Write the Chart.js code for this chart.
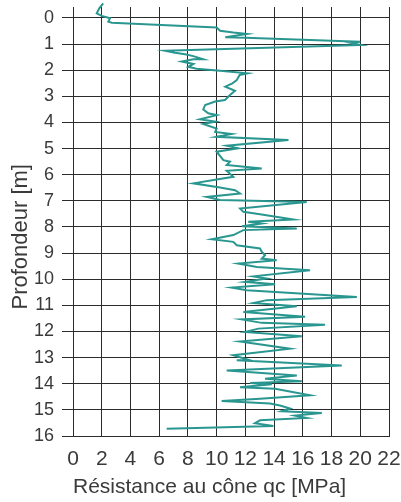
<!DOCTYPE html>
<html>
<head>
<meta charset="utf-8">
<script src="https://cdn.jsdelivr.net/npm/chart.js@4.4.0/dist/chart.umd.min.js"></script>
<style>
	html, body { margin: 0; padding: 0; background: #fff; }
	#wrap { width: 401px; height: 502px; }
</style>
</head>
<body>
<div id="wrap"><canvas id="cptChart"></canvas></div>
<script>
// Cone resistance qc [MPa] against depth [m]
const qc = [
	2.1, 1.83, 1.65, 2.0, 2.58, 2.46, 2.7, 10.0, 10.24, 11.16, 12.1, 10.6, 12.0, 20.0, 19.3, 20.0,
	6.4, 7.1, 7.8, 8.38, 9.07, 8.38, 7.57, 8.38, 8.03, 8.6, 10.24, 12.14, 11.6, 11.4, 11.1, 10.6,
	11.28, 10.93, 10.58, 9.9, 9.2, 9.07, 9.42, 10.0, 8.84, 9.9, 9.07, 10.0, 9.9, 11.05, 10.0, 15.0,
	10.7, 11.5, 10.0, 10.47, 10.93, 10.7, 12.1, 13.14, 10.7, 11.16, 10.0, 8.38, 10.24, 11.28, 11.63,
	9.31, 10.24, 16.27, 11.63, 11.86, 13.02, 15.34, 12.2, 13.14, 11.75, 15.58, 11.86, 11.16, 9.66,
	11.16, 11.4, 13.02, 13.14, 13.37, 13.14, 14.18, 11.51, 12.8, 16.5, 12.56, 13.49, 11.98, 14.07,
	11.05, 12.1, 19.76, 13.49, 12.56, 15.58, 11.86, 16.16, 11.75, 13.14, 17.55, 12.9, 11.98, 15.93,
	11.63, 15.11, 11.16, 12.2, 11.4, 18.71, 10.7, 15.58, 13.37, 15.93, 12.33, 13.84, 11.63, 14.07,
	16.5, 13.02, 10.35, 13.72, 14.41, 15.11, 14.53, 17.32, 15.46, 16.27, 13.02, 12.67, 13.95, 6.52,
]
const depth = [
	-0.56, -0.37, -0.18, -0.08, 0.01, 0.14, 0.18, 0.36, 0.49, 0.56, 0.61, 0.74, 0.76, 0.91, 0.95, 1.03,
	1.25, 1.33, 1.39, 1.46, 1.58, 1.58, 1.67, 1.76, 1.87, 1.94, 2.02, 2.12, 2.18, 2.38, 2.5, 2.63,
	2.79, 2.95, 3.14, 3.2, 3.33, 3.5, 3.65, 3.72, 3.88, 3.97, 4.06, 4.23, 4.36, 4.44, 4.55, 4.67,
	4.89, 4.99, 5.12, 5.44, 5.5, 5.63, 5.7, 5.76, 5.85, 6.08, 6.18, 6.33, 6.49, 6.59, 6.72,
	6.85, 6.97, 7.04, 7.29, 7.42, 7.51, 7.71, 7.8, 7.87, 7.97, 8.06, 8.12, 8.31, 8.47,
	8.57, 8.7, 8.82, 8.95, 9.08, 9.21, 9.27, 9.4, 9.53, 9.66, 9.89, 9.97, 10.1, 10.19,
	10.32, 10.42, 10.68, 10.8, 10.91, 11.03, 11.25, 11.44, 11.54, 11.67, 11.74, 11.89, 12.02, 12.18,
	12.38, 12.66, 12.91, 13.08, 13.1, 13.3, 13.49, 13.68, 13.81, 13.9, 13.97, 14.02, 14.13, 14.19,
	14.44, 14.57, 14.66, 14.76, 14.83, 14.95, 15.05, 15.12, 15.22, 15.31, 15.4, 15.51, 15.62, 15.72,
]
const depthTicks = [0, 1, 2, 3, 4, 5, 6, 7, 8, 9, 10, 11, 12, 13, 14, 15, 16]
const qcTicks = [0, 2, 4, 6, 8, 10, 12, 14, 16, 18, 20, 22]

const gridColor = '#2b2b2b'
const textColor = '#3a3a3a'
const fontFamily = '"Liberation Sans", Arial, Helvetica, sans-serif'

window.addEventListener('DOMContentLoaded', () => {
	const ctx = document.getElementById('cptChart')
	new Chart(ctx.getContext('2d'), {
		type: 'line',
		data: {
			datasets: [
				{
					data: qc.map((v, i) => ({ x: v, y: depth[i] })),
					borderColor: '#2a9690',
					borderWidth: 2,
					pointRadius: 0,
					tension: 0,
					fill: false,
					clip: false,
				},
			],
		},
		options: {
			responsive: true,
			maintainAspectRatio: false,
			animation: false,
			layout: {
				padding: { top: 7, left: 3, right: 0, bottom: 0 },
			},
			plugins: {
				legend: { display: false },
				tooltip: { enabled: false },
			},
			scales: {
				x: {
					type: 'linear',
					min: qcTicks[0],
					max: qcTicks[qcTicks.length - 1],
					afterBuildTicks: (axis) => {
						axis.ticks = qcTicks.map((v) => ({ value: v }))
					},
					afterFit: (axis) => {
						axis.height = 66
						axis.paddingLeft = 0
						axis.paddingRight = 12
					},
					grid: {
						color: gridColor,
						lineWidth: 1,
						drawTicks: false,
					},
					border: { color: gridColor, width: 1 },
					ticks: {
						color: textColor,
						padding: 11,
						maxRotation: 0,
						autoSkip: false,
						font: { family: fontFamily, size: 21 },
					},
					title: {
						display: true,
						align: 'start',
						text: 'Résistance au cône qc [MPa]',
						color: textColor,
						padding: { top: 4, bottom: 2 },
						font: { family: fontFamily, size: 21 },
					},
				},
				y: {
					type: 'linear',
					reverse: true,
					min: -0.42,
					max: 16,
					afterBuildTicks: (axis) => {
						axis.ticks = depthTicks.map((v) => ({ value: v }))
					},
					afterFit: (axis) => {
						axis.width = 70
						axis.paddingTop = 0
						axis.paddingBottom = 0
					},
					grid: {
						color: gridColor,
						lineWidth: 1,
						tickLength: 11,
					},
					border: { color: gridColor, width: 1 },
					ticks: {
						color: textColor,
						padding: 8,
						autoSkip: false,
						font: { family: fontFamily, size: 18 },
					},
					title: {
						display: true,
						text: 'Profondeur [m]     ',
						color: textColor,
						padding: { top: 5, bottom: 2 },
						font: { family: fontFamily, size: 22 },
					},
				},
			},
		},
	})
})
</script>
</body>
</html>
